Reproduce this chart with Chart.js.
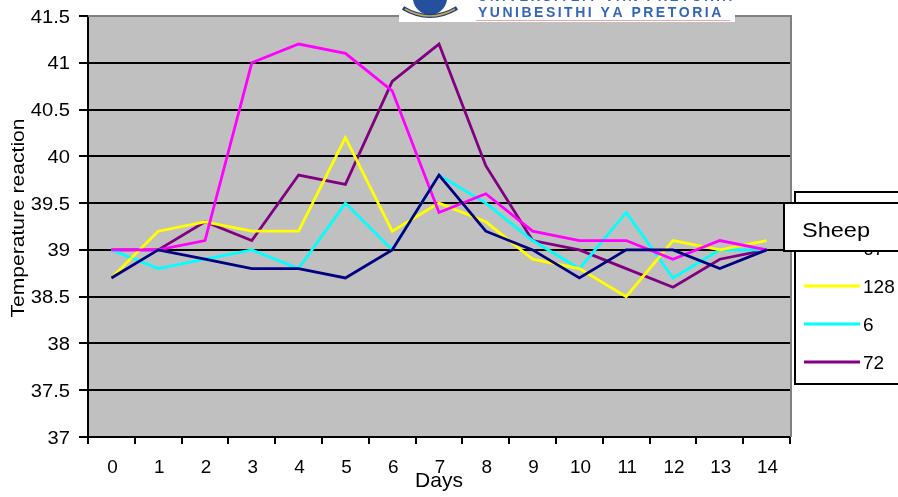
<!DOCTYPE html>
<html>
<head>
<meta charset="utf-8">
<script src="https://cdn.jsdelivr.net/npm/chart.js@4.4.1/dist/chart.umd.min.js"></script>
<style>
  html, body { margin: 0; padding: 0; background: #fff; }
  #wrap { width: 898px; height: 497px; position: relative; }
</style>
</head>
<body>
<div id="wrap"><canvas id="chart" width="898" height="497"></canvas></div>
<script>
const days = ["0", "1", "2", "3", "4", "5", "6", "7", "8", "9", "10", "11", "12", "13", "14"];
const yTicks = [37, 37.5, 38, 38.5, 39, 39.5, 40, 40.5, 41, 41.5];

const sheepNames = ["55", "67", "128", "6", "72"];
const sheepColors = ["#000080", "#FF00FF", "#FFFF00", "#00FFFF", "#800080"];

const sheepA = [38.7, 39.0, 38.9, 38.8, 38.8, 38.7, 39.0, 39.8, 39.2, 39.0, 38.7, 39.0, 39.0, 38.8, 39.0];
const sheep67 = [39.0, 39.0, 39.1, 41.0, 41.2, 41.1, 40.7, 39.4, 39.6, 39.2, 39.1, 39.1, 38.9, 39.1, 39.0];
const sheep128 = [38.7, 39.2, 39.3, 39.2, 39.2, 40.2, 39.2, 39.5, 39.3, 38.9, 38.8, 38.5, 39.1, 39.0, 39.1];
const sheep6 = [39.0, 38.8, 38.9, 39.0, 38.8, 39.5, 39.0, 39.8, 39.5, 39.1, 38.8, 39.4, 38.7, 39.0, 39.0];
const sheep72 = [39.0, 39.0, 39.3, 39.1, 39.8, 39.7, 40.8, 41.2, 39.9, 39.1, 39.0, 38.8, 38.6, 38.9, 39.0];

const series = [sheepA, sheep67, sheep128, sheep6, sheep72];

const FONT = "'Liberation Sans', Arial, sans-serif";

// text with its own horizontal stretch factor
function stretchedText(ctx, text, x, y, sx, align) {
    ctx.save();
    ctx.translate(x, y);
    ctx.scale(sx, 1);
    ctx.textAlign = align;
    ctx.fillText(text, 0, 0);
    ctx.restore();
}

const plotBackground = {
    id: "plotBackground",
    beforeDraw(chart) {
        const { ctx, chartArea: a } = chart;
        ctx.save();
        ctx.fillStyle = "#C0C0C0";
        ctx.fillRect(a.left, a.top, a.right - a.left, a.bottom - a.top);
        ctx.restore();
    },
    beforeDatasetsDraw(chart) {
        const { ctx, chartArea: a } = chart;
        ctx.save();
        // right and top edges of the plot are grey
        ctx.strokeStyle = "#808080";
        ctx.lineWidth = 2;
        ctx.beginPath();
        ctx.moveTo(a.left, a.top);
        ctx.lineTo(a.right + 1, a.top);
        ctx.lineTo(a.right + 1, a.bottom);
        ctx.stroke();
        ctx.restore();
    }
};

// tick labels and axis titles
const axisText = {
    id: "axisText",
    afterDraw(chart) {
        const { ctx, chartArea: a } = chart;
        const xs = chart.scales.x;
        const ys = chart.scales.y;
        ctx.save();
        ctx.fillStyle = "#000";
        ctx.textBaseline = "alphabetic";

        ctx.font = "18px " + FONT;
        ys.ticks.forEach((t) => {
            stretchedText(ctx, String(t.value), 70, ys.getPixelForValue(t.value) + 6.5, 1.12, "right");
        });

        days.forEach((d, i) => {
            stretchedText(ctx, d, xs.getPixelForValue(i) + 1, 473, 1.05, "center");
        });

        ctx.font = "21px " + FONT;
        stretchedText(ctx, "Days", (a.left + a.right) / 2, 487, 1.0, "center");

        ctx.save();
        ctx.translate(24, 218);
        ctx.rotate(-Math.PI / 2);
        ctx.font = "18px " + FONT;
        stretchedText(ctx, "Temperature reaction", 0, 0, 1.17, "center");
        ctx.restore();

        ctx.restore();
    }
};

// crest banner and the legend box
const decorations = {
    id: "decorations",
    afterDraw(chart) {
        const { ctx } = chart;
        ctx.save();

        // university banner at the top
        ctx.fillStyle = "#fff";
        ctx.fillRect(399, 0, 336, 22);
        ctx.fillStyle = "#24509e";
        ctx.beginPath();
        ctx.moveTo(413, 0);
        ctx.lineTo(447, 0);
        ctx.quadraticCurveTo(445, 12, 430, 16);
        ctx.quadraticCurveTo(415, 12, 413, 0);
        ctx.fill();
        ctx.strokeStyle = "#1d3f80";
        ctx.lineWidth = 4;
        ctx.beginPath();
        ctx.moveTo(403, 8);
        ctx.quadraticCurveTo(430, 24, 457, 8);
        ctx.stroke();
        ctx.strokeStyle = "#c9a94a";
        ctx.lineWidth = 1.5;
        ctx.beginPath();
        ctx.moveTo(405, 9);
        ctx.quadraticCurveTo(430, 23, 455, 9);
        ctx.stroke();

        ctx.fillStyle = "#3565b5";
        ctx.textAlign = "left";
        ctx.textBaseline = "alphabetic";
        const drawSpaced = (text, x0, y, gap) => {
            let bx = x0;
            for (const ch of text) {
                ctx.fillText(ch, bx, y);
                bx += ctx.measureText(ch).width + gap;
            }
        };
        ctx.font = "bold 13px " + FONT;
        drawSpaced("UNIVERSITEIT VAN PRETORIA", 478, 1, 2.6);
        ctx.font = "bold 14px " + FONT;
        drawSpaced("YUNIBESITHI YA PRETORIA", 478, 17, 2.5);
        ctx.strokeStyle = "#eaa5ad";
        ctx.lineWidth = 1;
        ctx.beginPath();
        ctx.moveTo(476, 20.5);
        ctx.lineTo(730, 20.5);
        ctx.stroke();

        // legend frame
        ctx.fillStyle = "#fff";
        ctx.fillRect(795, 192, 110, 192);
        ctx.strokeStyle = "#000";
        ctx.lineWidth = 2;
        ctx.strokeRect(795, 192, 110, 192);
        ctx.textBaseline = "alphabetic";
        ctx.font = "19px " + FONT;
        const rowY = [210, 248, 286, 324, 362];
        chart.data.datasets.forEach((ds, i) => {
            ctx.strokeStyle = ds.borderColor;
            ctx.lineWidth = 3;
            ctx.beginPath();
            ctx.moveTo(804, rowY[i]);
            ctx.lineTo(860, rowY[i]);
            ctx.stroke();
            ctx.fillStyle = "#000";
            stretchedText(ctx, ds.label, 863, rowY[i] + 7, 1.0, "left");
        });

        // legend title box sits over the first entries
        ctx.fillStyle = "#fff";
        ctx.fillRect(784, 203, 120, 48);
        ctx.strokeStyle = "#000";
        ctx.lineWidth = 2;
        ctx.strokeRect(784, 203, 120, 48);
        ctx.fillStyle = "#000";
        ctx.font = "21px " + FONT;
        stretchedText(ctx, "Sheep", 802, 237, 1.12, "left");

        ctx.restore();
    }
};

new Chart(document.getElementById("chart"), {
    type: "line",
    data: {
        labels: days,
        datasets: series.map((values, i) => ({
            label: sheepNames[i],
            data: values,
            borderColor: sheepColors[i],
            backgroundColor: sheepColors[i],
            borderWidth: 2.8,
            pointRadius: 0,
            tension: 0,
            fill: false,
        })),
    },
    options: {
        responsive: false,
        animation: false,
        layout: { padding: { top: 16, right: 108, left: 0, bottom: 0 } },
        plugins: {
            legend: { display: false },
            tooltip: { enabled: false },
        },
        scales: {
            x: {
                type: "category",
                offset: true,
                afterFit: (scale) => { scale.height = 60; },
                grid: {
                    offset: true,
                    drawOnChartArea: false,
                    color: "#000",
                    lineWidth: 2,
                    tickLength: 7,
                },
                border: { color: "#000", width: 2 },
                ticks: { display: false, autoSkip: false },
            },
            y: {
                min: 37,
                max: 41.5,
                afterFit: (scale) => { scale.width = 88; },
                afterBuildTicks: (scale) => {
                    scale.ticks = yTicks.map((v) => ({ value: v }));
                },
                grid: {
                    color: (c) => (c.tick && c.tick.value === 41.5 ? "#808080" : "#000"),
                    lineWidth: 2,
                    tickLength: 9,
                    tickColor: "#000",
                },
                border: { color: "#000", width: 2 },
                ticks: { display: false },
            },
        },
    },
    plugins: [plotBackground, axisText, decorations],
});
</script>
</body>
</html>
